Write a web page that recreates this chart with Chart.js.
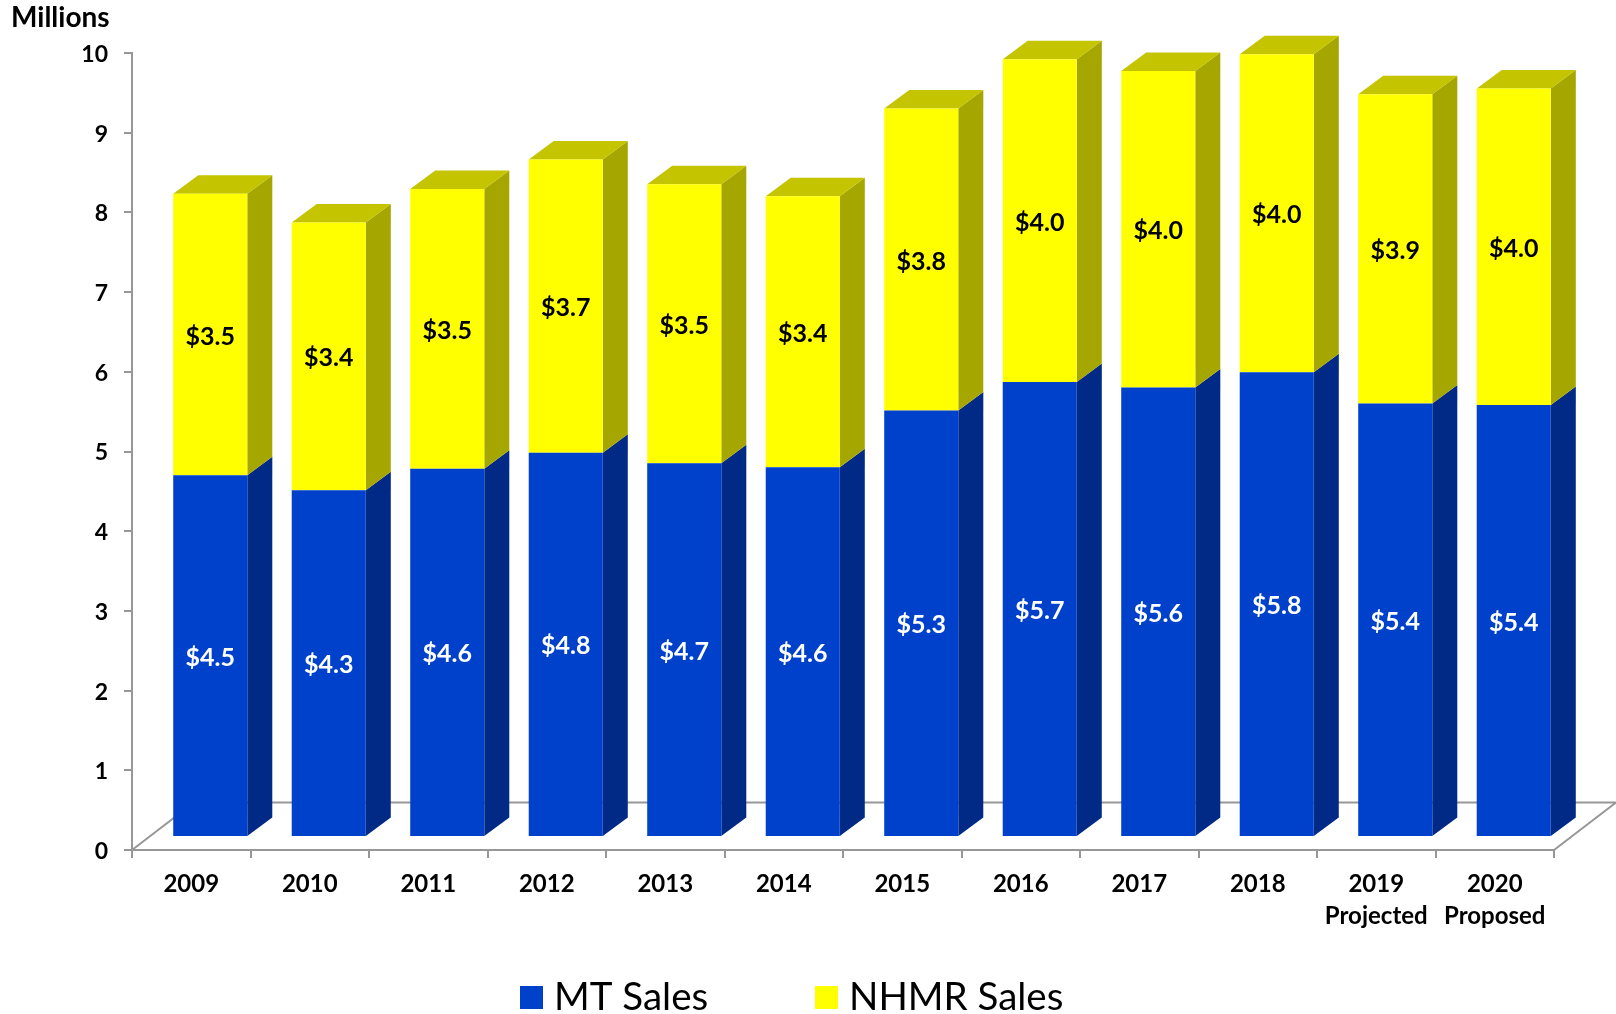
<!DOCTYPE html>
<html>
<head>
<meta charset="utf-8">
<title>MT and NHMR Sales</title>
<script src="https://cdn.jsdelivr.net/npm/chart.js@4"></script>
<style>
    html, body { margin: 0; padding: 0; background: #fff; }
    canvas { display: block; }
</style>
</head>
<body>
<canvas id="salesChart" width="1616" height="1014"></canvas>
<script>
const categories = ["2009", "2010", "2011", "2012", "2013", "2014", "2015", "2016", "2017", "2018", ["2019", "Projected"], ["2020", "Proposed"]];
const mtSales = [4.54, 4.35, 4.62, 4.82, 4.69, 4.64, 5.35, 5.71, 5.64, 5.83, 5.44, 5.42];
const nhmrSales = [3.53, 3.36, 3.51, 3.68, 3.50, 3.40, 3.79, 4.05, 3.97, 3.99, 3.88, 3.97];

const labelFont = "bold 25px Lato";
const axisColor = "#979797";
// how far the bars sit in from the front of the floor, and how deep they are
const barShift = { x: 19, y: -13 };
const barDepth = { x: 25, y: -18.5 };
const floorDepth = { x: 62, y: -47.5 };

function face(ctx, points, color) {
    ctx.fillStyle = color;
    ctx.beginPath();
    points.forEach(function (p, i) {
        if (i === 0) ctx.moveTo(p[0], p[1]);
        else ctx.lineTo(p[0], p[1]);
    });
    ctx.closePath();
    ctx.fill();
}

const fake3d = {
    id: "fake3d",
    beforeDatasetsDraw(chart) {
        const ctx = chart.ctx;
        const area = chart.chartArea;

        // back edge of the floor
        ctx.save();
        ctx.strokeStyle = axisColor;
        ctx.lineWidth = 2;
        ctx.beginPath();
        ctx.moveTo(area.left, area.bottom);
        ctx.lineTo(area.left + floorDepth.x, area.bottom + floorDepth.y);
        ctx.lineTo(area.right + floorDepth.x, area.bottom + floorDepth.y);
        ctx.lineTo(area.right, area.bottom);
        ctx.stroke();
        ctx.restore();

        // stays translated until afterDatasetsDraw so the bars move too
        ctx.save();
        ctx.translate(barShift.x, barShift.y);
        const sides = ["#002A85", "#A6A600"];
        chart.data.datasets.forEach(function (ds, d) {
            chart.getDatasetMeta(d).data.forEach(function (bar) {
                const right = bar.x + bar.width / 2;
                const left = bar.x - bar.width / 2;
                face(ctx, [
                    [right, bar.base],
                    [right + barDepth.x, bar.base + barDepth.y],
                    [right + barDepth.x, bar.y + barDepth.y],
                    [right, bar.y]
                ], sides[d]);
                if (d === chart.data.datasets.length - 1) {
                    face(ctx, [
                        [left, bar.y],
                        [left + barDepth.x, bar.y + barDepth.y],
                        [right + barDepth.x, bar.y + barDepth.y],
                        [right, bar.y]
                    ], "#C4C400");
                }
            });
        });
    },
    afterDatasetsDraw(chart) {
        const ctx = chart.ctx;
        const colors = ["#FFFFFF", "#000000"];
        ctx.font = labelFont;
        ctx.textAlign = "center";
        ctx.textBaseline = "middle";
        chart.data.datasets.forEach(function (ds, d) {
            ctx.fillStyle = colors[d];
            chart.getDatasetMeta(d).data.forEach(function (bar, i) {
                ctx.fillText("$" + ds.data[i].toFixed(1), bar.x, (bar.y + bar.base) / 2 + 2);
            });
        });
        ctx.restore();
    },
    afterDraw(chart) {
        const ctx = chart.ctx;
        ctx.save();
        ctx.fillStyle = "#000";
        ctx.textBaseline = "middle";
        ctx.textAlign = "left";
        ctx.font = "bold 28px Lato";
        ctx.fillText("Millions", 11, 18);

        // legend spacing is wider than the built in one allows
        const legendBoxes = [520, 815];
        ctx.font = "38.5px Lato";
        chart.data.datasets.forEach(function (ds, d) {
            ctx.fillStyle = ds.backgroundColor;
            ctx.fillRect(legendBoxes[d], 986, 23, 23);
            ctx.fillStyle = "#000";
            ctx.fillText(ds.label, legendBoxes[d] + 34, 998);
        });
        ctx.restore();
    }
};

new Chart(document.getElementById("salesChart").getContext("2d"), {
    type: "bar",
    plugins: [fake3d],
    data: {
        labels: categories,
        datasets: [
            { label: "MT Sales", data: mtSales, backgroundColor: "#0041CC" },
            { label: "NHMR Sales", data: nhmrSales, backgroundColor: "#FFFF00" }
        ]
    },
    options: {
        responsive: false,
        animation: false,
        layout: { padding: { top: 53, right: 62, left: 0, bottom: 0 } },
        barPercentage: 0.625,
        categoryPercentage: 1,
        scales: {
            x: {
                stacked: true,
                afterFit(scale) { scale.height = 164; },
                grid: { drawOnChartArea: false, tickLength: 8, color: axisColor, lineWidth: 2 },
                border: { color: axisColor, width: 2 },
                ticks: {
                    autoSkip: false,
                    maxRotation: 0,
                    padding: 10,
                    color: "#000",
                    font: { family: "Lato", size: 24, weight: "bold", lineHeight: 1.34 }
                }
            },
            y: {
                stacked: true,
                min: 0,
                max: 10,
                afterFit(scale) { scale.width = 132; },
                grid: { drawOnChartArea: false, tickLength: 8, color: axisColor, lineWidth: 2 },
                border: { color: axisColor, width: 2 },
                ticks: {
                    stepSize: 1,
                    padding: 16,
                    labelOffset: 1.5,
                    color: "#000",
                    font: { family: "Lato", size: 23, weight: "bold" }
                }
            }
        },
        plugins: {
            legend: { display: false },
            tooltip: { enabled: false }
        }
    }
});
</script>
</body>
</html>
